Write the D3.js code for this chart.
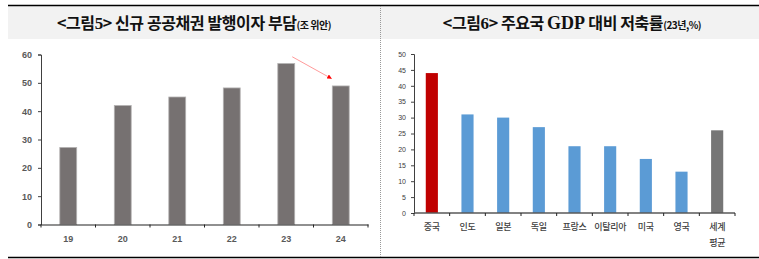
<!DOCTYPE html>
<html>
<head>
<meta charset="utf-8">
<script src="https://cdn.jsdelivr.net/npm/d3@7"></script>
<style>
	body { margin: 0; background: #fff; }
	svg { display: block; }
	.tick text { font-family: "Liberation Sans", Arial, sans-serif; }
</style>
</head>
<body>
<svg class="chart" width="759" height="259"></svg>
<script>
// left chart data
let years = ['19', '20', '21', '22', '23', '24'];
let interestBurden = [27.2, 42, 45, 48.2, 56.8, 48.9];
let leftTicks = [0, 10, 20, 30, 40, 50, 60];

// right chart data
let countries = ['중국', '인도', '일본', '독일', '프랑스', '이탈리아', '미국', '영국', '세계 평균'];
let savingRates = [44, 31, 30, 27, 21, 21, 17, 13, 26];
let rightTicks = [0, 5, 10, 15, 20, 25, 30, 35, 40, 45, 50];

let svg = d3.select('.chart');
let cjk = '"Noto Sans CJK KR", "Noto Sans", sans-serif';

/* FRAME */
svg.append('rect').attr('x', 8).attr('y', 6).attr('width', 751).attr('height', 33).attr('fill', '#f2f2f2');
svg.append('line').attr('x1', 8).attr('x2', 759).attr('y1', 5.5).attr('y2', 5.5)
	.attr('stroke', '#000').attr('stroke-width', 1.5);
svg.append('line').attr('x1', 8).attr('x2', 759).attr('y1', 257.5).attr('y2', 257.5)
	.attr('stroke', '#000').attr('stroke-width', 1.5);
svg.append('line').attr('x1', 380.5).attr('x2', 380.5).attr('y1', 6).attr('y2', 257)
	.attr('stroke', '#999').attr('stroke-dasharray', '1,1');

// titles
function title(x, parts) {
	let t = svg.append('text')
		.attr('x', x).attr('y', 29)
		.attr('text-anchor', 'middle')
		.attr('fill', '#111');
	parts.forEach(function(p) {
		t.append('tspan')
			.style('font-family', p.serif ? '"Liberation Serif", serif' : cjk)
			.style('font-weight', 700)
			.style('font-size', p.size + 'px')
			.style('letter-spacing', p.ls || '-0.4px')
			.text(p.text);
	});
}
title(194, [
	{ text: '<그림', size: 16 },
	{ text: '5', size: 17, serif: true },
	{ text: '> 신규 공공채권 발행이자 부담', size: 16 },
	{ text: '(조 위안)', size: 10, ls: '-0.5px' }
]);
title(572, [
	{ text: '<그림', size: 16 },
	{ text: '6', size: 17, serif: true },
	{ text: '> 주요국 ', size: 16 },
	{ text: 'GDP', size: 18, serif: true, ls: '0px' },
	{ text: ' 대비 저축률', size: 16 },
	{ text: '(23년,%)', size: 10, ls: '-0.5px' }
]);

/* LEFT CHART */
let xL = d3.scaleBand().domain(years).range([41, 368]).paddingInner(0.69).paddingOuter(0.345);
let xLaxis = d3.scaleBand().domain(years).range([41, 368]);
let yL = d3.scaleLinear().domain([0, 60]).range([224.5, 54.5]);

let gL = svg.append('g');
gL.append('g')
	.attr('transform', 'translate(41,0)')
	.call(d3.axisLeft(yL).tickValues(leftTicks).tickSize(3).tickPadding(6))
	.call(function(g) {
		g.selectAll('path, line').attr('stroke', '#404040');
		g.selectAll('text').attr('fill', '#595959').style('font-size', '9px').style('font-weight', 700);
	});

gL.selectAll('.bar-l')
	.data(interestBurden)
	.enter()
	.append('rect')
	.attr('class', 'bar-l')
	.attr('x', function(d, i) { return xL(years[i]); })
	.attr('y', function(d) { return yL(d); })
	.attr('width', xL.bandwidth())
	.attr('height', function(d) { return yL(0) - yL(d); })
	.attr('fill', '#767171')
	.attr('stroke', '#b4b2b2')
	.attr('stroke-width', 0.8);

gL.append('g')
	.attr('transform', 'translate(0,' + yL(0) + ')')
	.call(d3.axisBottom(xLaxis).tickSize(0).tickPadding(11).tickSizeOuter(0))
	.call(function(g) {
		g.select('.domain').attr('stroke', '#222').attr('stroke-width', 1.2);
		g.selectAll('text').attr('fill', '#595959').style('font-size', '9px').style('font-weight', 700);
	});
// tick marks between categories
gL.selectAll('.sep-l')
	.data(d3.range(years.length + 1))
	.enter()
	.append('line')
	.attr('x1', function(i) { return 41 + i * xLaxis.step(); })
	.attr('x2', function(i) { return 41 + i * xLaxis.step(); })
	.attr('y1', yL(0)).attr('y2', yL(0) + 3)
	.attr('stroke', '#222');

// red arrow 23 -> 24
let defs = svg.append('defs');
defs.append('marker')
	.attr('id', 'arrow')
	.attr('viewBox', '0 0 10 10')
	.attr('refX', 9).attr('refY', 5)
	.attr('markerWidth', 6).attr('markerHeight', 6)
	.attr('orient', 'auto')
	.append('path')
	.attr('d', 'M0,0 L10,5 L0,10 z')
	.attr('fill', '#ff0000');
gL.append('line')
	.attr('x1', xLaxis('23') + xLaxis.bandwidth() * 0.61)
	.attr('y1', yL(59.2))
	.attr('x2', xLaxis('24') + xLaxis.bandwidth() * 0.33)
	.attr('y2', yL(51.5))
	.attr('stroke', '#ff8080')
	.attr('stroke-width', 0.8)
	.attr('marker-end', 'url(#arrow)');

/* RIGHT CHART */
let xR = d3.scaleBand().domain(countries).range([414, 735]).paddingInner(0.66).paddingOuter(0.33);
let xRaxis = d3.scaleBand().domain(countries).range([414, 735]);
let yR = d3.scaleLinear().domain([0, 50]).range([213, 54]);

let gR = svg.append('g');
gR.append('g')
	.attr('transform', 'translate(414,0)')
	.call(d3.axisLeft(yR).tickValues(rightTicks).tickSize(3).tickPadding(5))
	.call(function(g) {
		g.selectAll('path, line').attr('stroke', '#404040');
		g.selectAll('text').attr('fill', '#404040').style('font-size', '7px');
	});

gR.selectAll('.bar-r')
	.data(savingRates)
	.enter()
	.append('rect')
	.attr('class', 'bar-r')
	.attr('x', function(d, i) { return xR(countries[i]); })
	.attr('y', function(d) { return yR(d); })
	.attr('width', xR.bandwidth())
	.attr('height', function(d) { return yR(0) - yR(d); })
	.attr('fill', function(d, i) {
		if (i === 0) return '#c00000';
		if (i === countries.length - 1) return '#767676';
		return '#5b9bd5';
	});

gR.append('line')
	.attr('x1', 414).attr('x2', 735)
	.attr('y1', yR(0)).attr('y2', yR(0))
	.attr('stroke', '#595959').attr('stroke-width', 1.5);
gR.selectAll('.sep-r')
	.data(d3.range(countries.length + 1))
	.enter()
	.append('line')
	.attr('x1', function(i) { return 414 + i * xRaxis.step(); })
	.attr('x2', function(i) { return 414 + i * xRaxis.step(); })
	.attr('y1', yR(0)).attr('y2', yR(0) + 3)
	.attr('stroke', '#222');

gR.selectAll('.lab-r')
	.data(countries)
	.enter()
	.append('text')
	.attr('class', 'lab-r')
	.attr('x', function(d) { return xRaxis(d) + xRaxis.bandwidth() / 2; })
	.attr('y', 230)
	.attr('text-anchor', 'middle')
	.attr('fill', '#404040')
	.style('font-family', cjk)
	.style('font-size', '9px')
	.style('font-weight', 500)
	.style('letter-spacing', '-0.3px')
	.each(function(d) {
		let words = d.split(' ');
		let t = d3.select(this);
		words.forEach(function(w, k) {
			t.append('tspan')
				.attr('x', xRaxis(d) + xRaxis.bandwidth() / 2)
				.attr('dy', k === 0 ? 0 : 16)
				.text(w);
		});
	});
</script>
</body>
</html>
